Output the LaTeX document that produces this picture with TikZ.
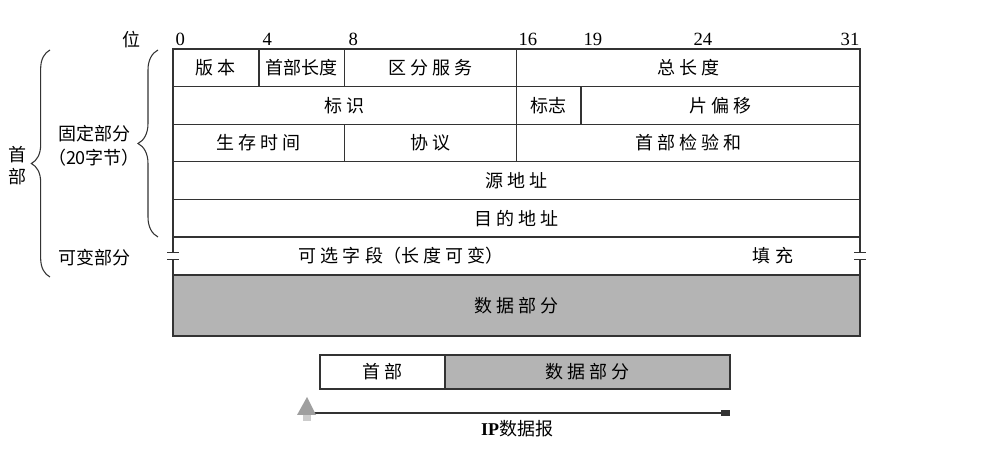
\documentclass[tikz,border=0pt]{standalone}
\usepackage{fontspec}
\setmainfont{Liberation Serif}
\newfontfamily\cjk{Noto Sans CJK SC}
\usetikzlibrary{arrows.meta,decorations.pathreplacing}
\definecolor{cellgray}{HTML}{B4B4B4}
\definecolor{linegray}{HTML}{333333}
\tikzset{
	field/.style     = {draw=linegray, rectangle, inner sep=0pt,
		minimum height=28.2pt, font=\cjk\fontsize{13.5}{15}\selectfont},
	datafield/.style = {field, fill=cellgray, minimum height=45.75pt},
	bitnum/.style    = {anchor=south west, inner sep=0pt,
		font=\fontsize{14}{16}\selectfont}, % bit positions
	sidetext/.style  = {inner sep=0pt, font=\cjk\fontsize{13.5}{15}\selectfont},
	bracket/.style   = {decorate, decoration={brace, amplitude=#1},
		line width=0.8pt, draw=linegray}
}

\begin{document}
\begin{tikzpicture}[x=0.75pt, y=-0.75pt, line width=0.9pt]
	\useasboundingbox (0,0) rectangle (1004,459);

	% bit positions
	\node[sidetext] (wei) at (131,40) {位};
	\foreach \b/\x in {0/175, 4/262, 8/348, 16/518, 19/583, 24/693}
		\node[bitnum] (b\b) at (\x,46) {\b};
	\node[bitnum, anchor=south east] (b31) at (860,46) {31};

	% fixed part, 5 rows
	\draw
	node at (215.9,67.8)[field, minimum width=64.4pt] (ver) {版 本}
	node at (301.9,67.8)[field, minimum width=64.4pt] (hlen) {首部长度}
	node at (430.7,67.8)[field, minimum width=128.8pt] (ds) {区 分 服 务}
	node at (688.3,67.8)[field, minimum width=257.6pt] (tlen) {总 长 度};
	\draw
	node at (344.8,105.4)[field, minimum width=257.6pt] (ident) {标 识}
	node at (548.7,105.4)[field, minimum width=48.3pt] (flag) {标志}
	node at (720.5,105.4)[field, minimum width=209.3pt] (frag) {片 偏 移};
	\draw
	node at (258.9,143)[field, minimum width=128.8pt] (ttl) {生 存 时 间}
	node at (430.7,143)[field, minimum width=128.8pt] (proto) {协 议}
	node at (688.3,143)[field, minimum width=257.6pt] (csum) {首 部 检 验 和};
	\draw
	node at (516.5,180.6)[field, minimum width=515.2pt] (src) {源 地 址}
	node at (516.5,218.2)[field, minimum width=515.2pt] (dst) {目 的 地 址};

	% variable part
	\node[sidetext] (opt) at (401,256) {可 选 字 段（长 度 可 变）};
	\node[sidetext] (pad) at (773,256) {填 充};
	\foreach \x in {173,860} {
		\draw[linegray] (\x,237) -- (\x,252.5) (\x,259.5) -- (\x,275);
		\draw[linegray] (\x-6,252.5) -- (\x+6,252.5) (\x-6,259.5) -- (\x+6,259.5);
	}

	\node[datafield, minimum width=515.2pt] (data) at (516.5,305.5) {数 据 部 分};

	% braces on the left
	\draw[bracket=15pt] (158,237) -- (158,50);
	\node[sidetext] (fixed) at (94,134) {固定部分};
	\node[sidetext] (bytes) at (94,158) {（20字节）};
	\node[sidetext] (var) at (94,258) {可变部分};
	\draw[bracket=14pt] (50,277) -- (50,50);
	\node[sidetext] (shou) at (17,155) {首};
	\node[sidetext] (bu) at (17,177) {部};

	% whole datagram
	\draw
	node at (382.5,372)[field, minimum width=93.75pt, minimum height=25.5pt] (hdr) {首 部}
	node at (587.5,372)[datafield, minimum width=213.75pt, minimum height=25.5pt] (body) {数 据 部 分};

	\coordinate (ipstart) at (300,413);
	\coordinate (ipend) at (730,413);
	\draw[linegray, -{Square[length=7pt,width=4.5pt]}] (ipstart) -- (ipend);
	\fill[gray!40] (303,414) rectangle (311,421);
	\fill[gray!75] (297,415) -- (307,397) -- (316,415) -- cycle;
	\node[sidetext] (iplabel) at (517,429) {{\rmfamily\bfseries IP}数据报};
\end{tikzpicture}
\end{document}
